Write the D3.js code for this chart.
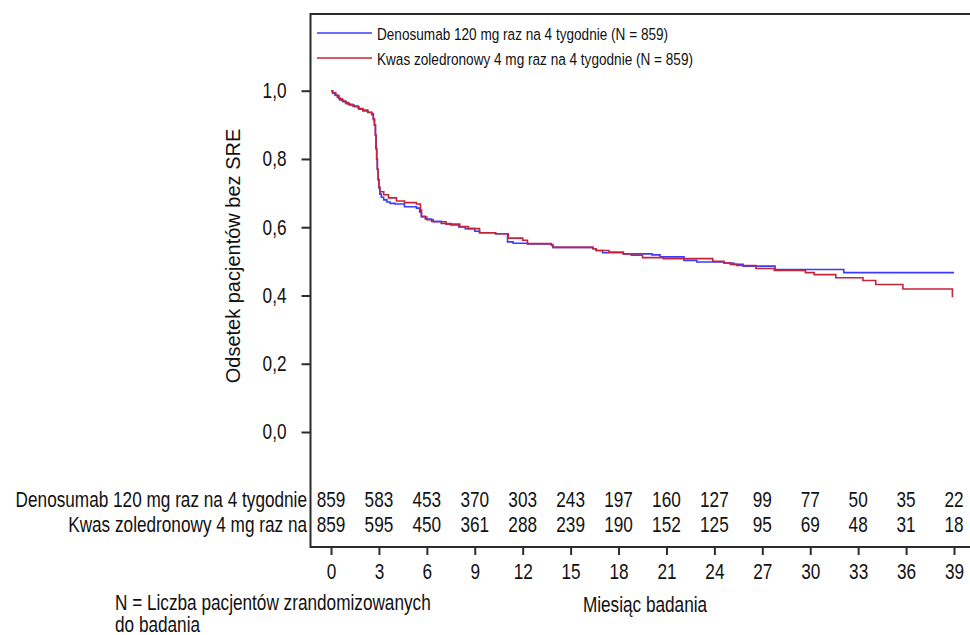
<!DOCTYPE html>
<html>
<head>
<meta charset="utf-8">
<script src="https://cdn.jsdelivr.net/npm/d3@7"></script>
<style>
  body { margin: 0; background: #fff; }
  text { font-family: "Liberation Sans", Arial, sans-serif; fill: #111; }
</style>
</head>
<body>
<script>
// Kaplan-Meier: odsetek pacjentów bez SRE
const denosumabMonths = [0, 0.1, 0.25, 0.4, 0.55, 0.75, 0.95, 1.15, 1.45, 1.75, 2.0, 2.3, 2.55, 2.65, 2.72, 2.78, 2.82, 2.86, 2.9, 2.95, 3.0, 3.06, 3.15, 3.3, 3.5, 3.7, 4.0, 4.6, 5.35, 5.55, 5.65, 5.9, 6.3, 6.9, 7.5, 8.0, 8.4, 9.0, 9.3, 10.3, 11.05, 11.4, 12.3, 13.8, 13.9, 16.4, 16.6, 17.0, 18.3, 20.1, 20.6, 22.1, 22.9, 24.6, 25.2, 25.8, 27.8, 32.1, 39.0];
const denosumabSurv = [1.0, 0.993, 0.987, 0.98, 0.973, 0.968, 0.962, 0.958, 0.953, 0.946, 0.941, 0.936, 0.93, 0.915, 0.9, 0.87, 0.83, 0.8, 0.77, 0.74, 0.715, 0.697, 0.688, 0.68, 0.674, 0.67, 0.668, 0.66, 0.656, 0.645, 0.632, 0.624, 0.617, 0.611, 0.607, 0.601, 0.596, 0.588, 0.584, 0.581, 0.557, 0.553, 0.551, 0.547, 0.541, 0.537, 0.532, 0.525, 0.522, 0.519, 0.513, 0.503, 0.498, 0.495, 0.491, 0.486, 0.476, 0.467, 0.467];

const zoledronicMonths = [0, 0.1, 0.3, 0.5, 0.7, 0.9, 1.1, 1.35, 1.7, 2.0, 2.3, 2.55, 2.65, 2.72, 2.78, 2.82, 2.86, 2.9, 2.95, 3.0, 3.06, 3.3, 3.6, 4.1, 4.6, 5.35, 5.6, 5.67, 6.0, 6.4, 7.2, 8.06, 8.6, 9.3, 10.3, 11.1, 12.0, 12.3, 13.8, 13.9, 16.4, 16.6, 17.4, 18.3, 18.8, 19.5, 20.8, 23.9, 24.6, 25.0, 25.4, 26.6, 27.75, 29.7, 30.25, 31.6, 33.3, 34.1, 35.8, 38.9, 38.95];
const zoledronicSurv = [1.0, 0.994, 0.986, 0.976, 0.97, 0.965, 0.96, 0.955, 0.948, 0.943, 0.937, 0.932, 0.918, 0.9, 0.87, 0.83, 0.8, 0.77, 0.74, 0.718, 0.704, 0.695, 0.686, 0.677, 0.672, 0.668, 0.65, 0.63, 0.622, 0.616, 0.609, 0.602, 0.596, 0.584, 0.581, 0.568, 0.562, 0.552, 0.548, 0.541, 0.537, 0.532, 0.527, 0.522, 0.518, 0.511, 0.508, 0.5, 0.495, 0.491, 0.488, 0.479, 0.473, 0.467, 0.461, 0.452, 0.444, 0.432, 0.419, 0.397, 0.397];

// liczba pacjentów w grupie ryzyka
const riskMonths = [0, 3, 6, 9, 12, 15, 18, 21, 24, 27, 30, 33, 36, 39];
const denosumabAtRisk = [859, 583, 453, 370, 303, 243, 197, 160, 127, 99, 77, 50, 35, 22];
const zoledronicAtRisk = [859, 595, 450, 361, 288, 239, 190, 152, 125, 95, 69, 48, 31, 18];

const yTicks = [0, 0.2, 0.4, 0.6, 0.8, 1.0];
const seriesNames = ["Denosumab 120 mg raz na 4 tygodnie (N = 859)", "Kwas zoledronowy 4 mg raz na 4 tygodnie (N = 859)"];
const riskLabels = ["Denosumab 120 mg raz na 4 tygodnie", "Kwas zoledronowy 4 mg raz na"];
const colors = ["#3b3bff", "#c4243a"];

const width = 970, height = 635;
const frameLeft = 310.5, frameTop = 14, frameBottom = 547;
const sx = 0.8; // zwężony krój (Arial Narrow)

const svg = d3.select("body").append("svg")
    .attr("width", width)
    .attr("height", height);

const x = d3.scaleLinear().domain([0, 39]).range([331, 954]);
const y = d3.scaleLinear().domain([0, 1]).range([432, 90.7]);

// helper for narrow text
function addText(x0, y0, str, size, anchor) {
  return svg.append("text")
    .attr("transform", `translate(${x0},${y0}) scale(${sx},1)`)
    .attr("text-anchor", anchor || "start")
    .style("font-size", size + "px")
    .text(str);
}

// frame
const frame = svg.append("g").attr("stroke", "#2b2b2b").attr("stroke-width", 2);
frame.append("line").attr("x1", frameLeft).attr("x2", width).attr("y1", frameTop).attr("y2", frameTop);
frame.append("line").attr("x1", frameLeft).attr("x2", frameLeft).attr("y1", frameTop - 1).attr("y2", frameBottom + 1);
frame.append("line").attr("x1", frameLeft).attr("x2", width).attr("y1", frameBottom).attr("y2", frameBottom);

// y axis
const yAxis = svg.append("g")
    .attr("transform", `translate(${frameLeft},0)`)
    .call(d3.axisLeft(y).tickValues(yTicks).tickSize(9).tickPadding(15)
      .tickFormat(d => d3.format(".1f")(d).replace(".", ",")));
yAxis.select(".domain").remove();
yAxis.selectAll(".tick line").attr("stroke", "#2b2b2b").attr("stroke-width", 2);
yAxis.selectAll(".tick text")
    .style("font-size", "21.5px").style("font-family", null)
    .attr("x", -24 / sx)
    .attr("transform", `scale(${sx},1)`);

// x axis
const xAxis = svg.append("g")
    .attr("transform", `translate(0,${frameBottom})`)
    .call(d3.axisBottom(x).tickValues(riskMonths).tickSize(8).tickPadding(9).tickFormat(d3.format("d")));
xAxis.select(".domain").remove();
xAxis.selectAll(".tick line").attr("stroke", "#2b2b2b").attr("stroke-width", 2);
xAxis.selectAll(".tick text")
    .style("font-size", "21.5px").style("font-family", null)
    .attr("transform", `scale(${sx},1)`);

// curves
const line = d3.line()
    .x(d => x(d[0]))
    .y(d => y(d[1]))
    .curve(d3.curveStepAfter);

const curves = [
  d3.zip(denosumabMonths, denosumabSurv),
  d3.zip(zoledronicMonths, zoledronicSurv)
];
curves.forEach((pts, i) => {
  svg.append("path")
      .datum(pts)
      .attr("fill", "none")
      .attr("stroke", colors[i])
      .attr("stroke-width", 1.6)
      .attr("d", line);
});

// legend
seriesNames.forEach((name, i) => {
  const ly = 33 + i * 25;
  svg.append("line")
      .attr("x1", 317).attr("x2", 372).attr("y1", ly).attr("y2", ly)
      .attr("stroke", colors[i]).attr("stroke-width", 1.6);
  addText(377, ly + 6.5, name, 17);
});

// risk table
[denosumabAtRisk, zoledronicAtRisk].forEach((row, i) => {
  const ry = 507 + i * 25;
  addText(307, ry, riskLabels[i], 21.5, "end");
  row.forEach((n, j) => addText(x(riskMonths[j]), ry, n, 21.5, "middle"));
});

// axis titles
addText(645, 612, "Miesiąc badania", 21.5, "middle");
svg.append("text")
    .attr("transform", "translate(240,256) rotate(-90)")
    .attr("text-anchor", "middle")
    .style("font-size", "20px")
    .text("Odsetek pacjentów bez SRE");

// footnote
addText(115, 610, "N = Liczba pacjentów zrandomizowanych", 21.5);
addText(115, 632, "do badania", 21.5);
</script>
</body>
</html>
